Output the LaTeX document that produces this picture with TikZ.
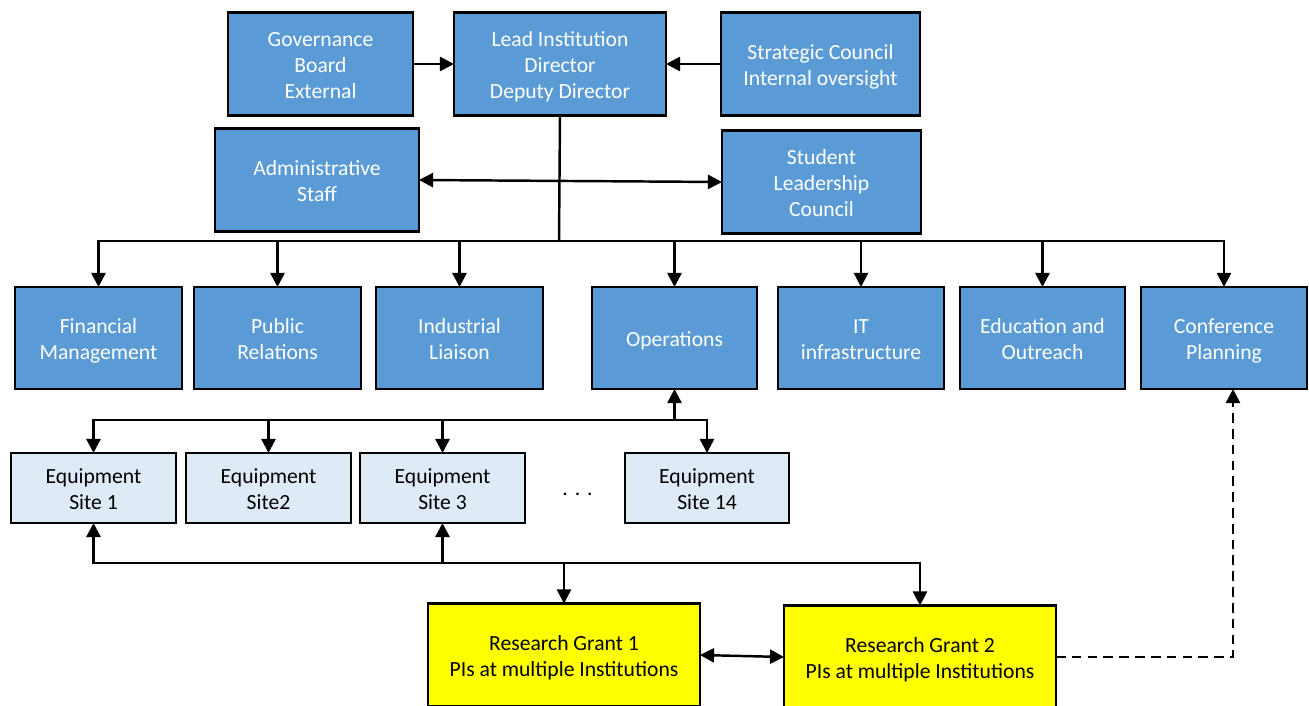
\documentclass[tikz,border=0pt]{standalone}
\usepackage{fontspec}
\setmainfont{Carlito}
\usetikzlibrary{arrows.meta}
\definecolor{boxblue}{HTML}{5B9BD5}
\definecolor{boxlight}{HTML}{DEEBF7}
\definecolor{boxyellow}{HTML}{FFFF00}
\newcommand{\T}[1]{\raisebox{-1.6pt}[\height][\depth]{\begin{tabular}{@{}c@{}}#1\end{tabular}}}
\begin{document}
\begin{tikzpicture}[
  every node/.style={font=\fontsize{12.3pt}{14.8pt}\selectfont, align=center, inner sep=0pt, outer sep=0pt},
  bluebox/.style={draw=black, line width=1.3pt, fill=boxblue, text=white, minimum height=2.06cm},
  lightbox/.style={draw=black, line width=1.3pt, fill=boxlight, text=black, minimum width=3.3cm, minimum height=1.40cm},
  yellowbox/.style={draw=black, line width=1.3pt, fill=boxyellow, text=black, minimum width=5.44cm, minimum height=2.06cm},
  conn/.style={line width=1.4pt, -{Triangle[length=8pt,width=8pt]}},
  dconn/.style={line width=1.4pt, {Triangle[length=8pt,width=8pt]}-{Triangle[length=8pt,width=8pt]}},
  plain/.style={line width=1.4pt}
]
\useasboundingbox (0,0) rectangle (26.18,-14.12);
% top row
\node[bluebox, minimum width=3.70cm] (gov) at (6.41,-1.28) {\T{Governance\\Board\\External}};
\node[bluebox, minimum width=4.24cm] (lead) at (11.20,-1.28) {\T{Lead Institution\\Director\\Deputy Director}};
\node[bluebox, minimum width=3.98cm] (strat) at (16.41,-1.28) {\T{Strategic Council\\Internal oversight}};
\node[bluebox, minimum width=4.08cm] (admin) at (6.34,-3.60) {\T{Administrative\\Staff}};
\node[bluebox, minimum width=3.98cm] (stud) at (16.43,-3.64) {\T{Student\\Leadership\\Council}};
% second row
\node[bluebox, minimum width=3.34cm, minimum height=2.04cm] (fin) at (1.97,-6.76) {\T{Financial\\Management}};
\node[bluebox, minimum width=3.34cm, minimum height=2.04cm] (pub) at (5.55,-6.76) {\T{Public\\Relations}};
\node[bluebox, minimum width=3.34cm, minimum height=2.04cm] (ind) at (9.19,-6.76) {\T{Industrial\\Liaison}};
\node[bluebox, minimum width=3.30cm, minimum height=2.04cm] (ops) at (13.49,-6.76) {\T{Operations}};
\node[bluebox, minimum width=3.32cm, minimum height=2.04cm] (it) at (17.22,-6.76) {\T{IT\\infrastructure}};
\node[bluebox, minimum width=3.30cm, minimum height=2.04cm] (edu) at (20.85,-6.76) {\T{Education and\\Outreach}};
\node[bluebox, minimum width=3.32cm, minimum height=2.04cm] (conf) at (24.48,-6.76) {\T{Conference\\Planning}};
% equipment row
\node[lightbox] (s1) at (1.87,-9.76) {\T{Equipment\\Site 1}};
\node[lightbox] (s2) at (5.37,-9.76) {\T{Equipment\\Site2}};
\node[lightbox] (s3) at (8.85,-9.76) {\T{Equipment\\Site 3}};
\node (dots) at (11.55,-9.88) {.\hspace{4pt}.\hspace{4pt}.};
\node[lightbox, minimum width=3.28cm] (s14) at (14.14,-9.76) {\T{Equipment\\Site 14}};
% research grants
\node[yellowbox] (rg1) at (11.28,-13.10) {\T{Research Grant 1\\PIs at multiple Institutions}};
\node[yellowbox] (rg2) at (18.40,-13.14) {\T{Research Grant 2\\PIs at multiple Institutions}};
% bus coordinates
\coordinate (bus) at (11.18,-4.82);
\coordinate (ebus) at (13.49,-8.40);
\coordinate (rbus) at (8.85,-11.26);
\coordinate (dturn) at (24.66,-6.76);
% top connectors
\draw[conn] (gov.east) -- (lead.west);
\draw[conn] (strat.west) -- (lead.west -| lead.east);
\draw[dconn] (admin.east) -- (stud.west);
\draw[plain] (lead.south) -- (bus);
\foreach \b in {fin,pub,ind,ops,it,edu,conf}{
  \draw[conn] (bus) -| (\b.north);
}
% equipment connectors
\draw[conn] (ebus) -- (ops.south);
\foreach \b in {s1,s2,s3,s14}{
  \draw[conn] (ebus) -| (\b.north);
}
% research connectors
\draw[conn] (rbus) -- (s3.south);
\draw[conn] (rbus) -| (s1.south);
\draw[conn] (rbus) -| (rg1.north);
\draw[conn] (rbus) -| (rg2.north);
\draw[dconn] (rg1.east) -- (rg2.west);
\draw[conn, dash pattern=on 5.5pt off 3.5pt] (rg2.east) -| (dturn |- conf.south);
\end{tikzpicture}
\end{document}
